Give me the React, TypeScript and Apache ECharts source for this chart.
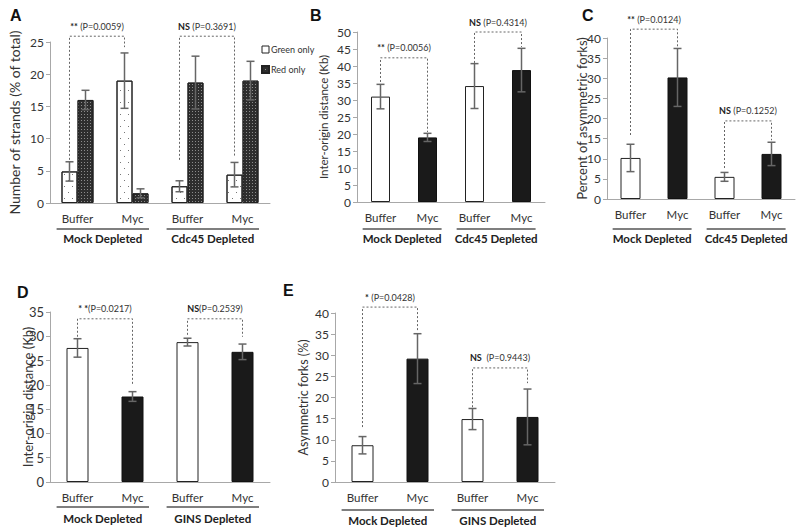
import React, { useEffect, useRef } from 'react';
import * as echarts from 'echarts';

const categories = ['Buffer', 'Myc', 'Buffer', 'Myc'];
const groupsABC = ['Mock Depleted', 'Cdc45 Depleted'];
const groupsDE = ['Mock Depleted', 'GINS Depleted'];

// Panel A
const aGreen = [4.9, 19.0, 2.6, 4.4];
const aGreenErr = [1.5, 4.3, 0.85, 1.9];
const aRed = [16.0, 1.5, 18.7, 19.0];
const aRedErr = [1.5, 0.7, 4.1, 3.0];
// Panel B
const bValues = [31.0, 19.0, 34.1, 38.8];
const bErr = [3.6, 1.2, 6.6, 6.4];
// Panel C
const cValues = [10.2, 30.2, 5.5, 11.2];
const cErr = [3.4, 7.2, 1.1, 2.9];
// Panel D
const dValues = [27.6, 17.6, 28.8, 26.8];
const dErr = [1.9, 1.0, 0.8, 1.6];
// Panel E
const eValues = [8.7, 29.2, 14.9, 15.4];
const eErr = [2.05, 5.9, 2.5, 6.6];

// significance brackets: [leftCat, rightCat, top, leftBottom, rightBottom, stars, p]
type Br = [number, number, number, number, number, string, string];
const aBrackets: Br[] = [
  [0, 1, 25.9, 6.7, 24.2, '**', ' (P=0.0059)'],
  [2, 3, 25.9, 6.7, 7.1, 'NS', ' (P=0.3691)'],
];
const bBrackets: Br[] = [
  [0, 1, 42.4, 35.3, 20.6, '**', ' (P=0.0056)'],
  [2, 3, 50.0, 40.9, 45.6, 'NS', ' (P=0.4314)'],
];
const cBrackets: Br[] = [
  [0, 1, 42.2, 15.9, 37.7, '**', ' (P=0.0124)'],
  [2, 3, 19.4, 7.7, 14.6, 'NS', ' (P=0.1252)'],
];
const dBrackets: Br[] = [
  [0, 1, 33.6, 29.9, 20.0, '* *', '(P=0.0217)'],
  [2, 3, 33.6, 30.3, 29.9, 'NS', '(P=0.2539)'],
];
const eBrackets: Br[] = [
  [0, 1, 41.4, 13.0, 35.5, '*', ' (P=0.0428)'],
  [2, 3, 27.0, 17.7, 23.4, 'NS', '  (P=0.9443)'],
];

const FONT = 'Lato';
const TXT = '#333';
const AXIS = '#a8a8a8';

function errRender(offsetPx: number) {
  return (params: any, api: any) => {
    const idx = api.value(0), v = api.value(1), e = api.value(2);
    const top = api.coord([idx, v + e]);
    const bot = api.coord([idx, v - e]);
    const x = top[0] + offsetPx;
    const cap = 4;
    const st = { stroke: '#666', lineWidth: 1.5 };
    return {
      type: 'group',
      children: [
        { type: 'line', shape: { x1: x, y1: top[1], x2: x, y2: bot[1] }, style: st },
        { type: 'line', shape: { x1: x - cap, y1: top[1], x2: x + cap, y2: top[1] }, style: st },
        { type: 'line', shape: { x1: x - cap, y1: bot[1], x2: x + cap, y2: bot[1] }, style: st },
      ],
    };
  };
}

function bracketRender(list: Br[], offsetPx: number) {
  return (params: any, api: any) => {
    const b = list[params.dataIndex];
    const pL = api.coord([b[0], b[3]]);
    const pR = api.coord([b[1], b[4]]);
    const yT = api.coord([b[0], b[2]])[1];
    const xL = pL[0] + offsetPx, xR = pR[0] + offsetPx;
    return {
      type: 'group',
      children: [
        {
          type: 'polyline',
          shape: { points: [[xL, pL[1]], [xL, yT], [xR, yT], [xR, pR[1]]] },
          style: { stroke: '#666', lineWidth: 1, lineDash: [2, 2], fill: null },
        },
        {
          type: 'text',
          x: (xL + xR) / 2,
          y: yT - 10,
          style: {
            text: '{s|' + b[5] + '}{p|' + b[6] + '}',
            align: 'center',
            verticalAlign: 'middle',
            rich: {
              s: { fontWeight: 'bold', fontSize: 9, fontFamily: FONT, fill: '#222' },
              p: { fontSize: 9, fontFamily: FONT, fill: '#333' },
            },
          },
        },
      ],
    };
  };
}

function groupRender(labels: string[], lineDy: number, textDy: number) {
  return (params: any, api: any) => {
    const s = api.value(0), e = api.value(1);
    const bw = api.size([1, 0])[0];
    const p0 = api.coord([s, 0]);
    const p1 = api.coord([e, 0]);
    const x0 = p0[0] - 0.38 * bw, x1 = p1[0] + 0.3 * bw;
    const y = p0[1] + lineDy;
    return {
      type: 'group',
      children: [
        { type: 'line', shape: { x1: x0, y1: y, x2: x1, y2: y }, style: { stroke: '#555', lineWidth: 1.5 } },
        {
          type: 'text',
          x: (x0 + x1) / 2,
          y: p0[1] + textDy,
          style: {
            text: labels[params.dataIndex],
            align: 'center',
            verticalAlign: 'middle',
            fontSize: 11.5,
            fontWeight: 'bold',
            fontFamily: FONT,
            fill: '#222',
          },
        },
      ],
    };
  };
}

function xAxisCfg(gridIndex: number) {
  return {
    type: 'category',
    gridIndex,
    data: categories,
    axisLine: { lineStyle: { color: AXIS, width: 1 } },
    axisTick: { show: false },
    axisLabel: { fontSize: 11.5, color: TXT, fontFamily: FONT, margin: 9 },
  };
}

function yAxisCfg(
  gridIndex: number,
  max: number,
  name: string,
  nameGap: number,
  nameSize: number,
  labelSize: number,
  moveOverlap = true
) {
  return {
    type: 'value',
    gridIndex,
    min: 0,
    max,
    interval: 5,
    name,
    nameLocation: 'middle',
    nameGap,
    nameMoveOverlap: moveOverlap,
    nameTextStyle: { fontSize: nameSize, color: TXT, fontFamily: FONT },
    axisLine: { show: true, lineStyle: { color: AXIS, width: 1 } },
    axisTick: { show: true, length: 4, lineStyle: { color: AXIS } },
    splitLine: { show: false },
    axisLabel: { fontSize: labelSize, color: TXT, fontFamily: FONT, margin: 6 },
  };
}

const whiteStyle = { color: '#fff', borderColor: '#222', borderWidth: 1 };
const blackStyle = { color: '#1a1a1a', borderColor: '#111', borderWidth: 1 };

function barSeries(gridIndex: number, data: number[], width: number) {
  return {
    type: 'bar',
    xAxisIndex: gridIndex,
    yAxisIndex: gridIndex,
    data: data.map((v, i) => ({ value: v, itemStyle: i % 2 === 0 ? whiteStyle : blackStyle })),
    barWidth: width,
  };
}

function errSeries(gridIndex: number, values: number[], errs: number[], offsetPx = 0) {
  return {
    type: 'custom',
    xAxisIndex: gridIndex,
    yAxisIndex: gridIndex,
    data: values.map((v, i) => [i, v, errs[i]]),
    renderItem: errRender(offsetPx),
    z: 5,
    silent: true,
  };
}

function bracketSeries(gridIndex: number, list: Br[], offsetPx = 0) {
  return {
    type: 'custom',
    xAxisIndex: gridIndex,
    yAxisIndex: gridIndex,
    data: list.map((b) => [b[0], b[2]]),
    renderItem: bracketRender(list, offsetPx),
    z: 6,
    silent: true,
    clip: false,
  };
}

function groupSeries(gridIndex: number, labels: string[], lineDy: number, textDy: number) {
  return {
    type: 'custom',
    xAxisIndex: gridIndex,
    yAxisIndex: gridIndex,
    data: [[0, 1], [2, 3]],
    renderItem: groupRender(labels, lineDy, textDy),
    silent: true,
    clip: false,
  };
}

function letter(text: string, left: number, top: number) {
  return {
    text,
    left,
    top,
    padding: 0,
    textStyle: { fontSize: 16, fontWeight: 'bold', fontFamily: 'Liberation Sans', color: '#111' },
  };
}

export default function App() {
  const ref = useRef<HTMLDivElement>(null);
  useEffect(() => {
    if (!ref.current) return;
    const chart = echarts.init(ref.current, null, { renderer: 'svg' });
    const greenDecal = {
      symbol: 'rect',
      symbolSize: 1,
      color: '#777',
      dashArrayX: [[1, 7], [0, 4, 1, 3]],
      dashArrayY: [1, 5],
    };
    const redDecal = {
      symbol: 'rect',
      symbolSize: 1,
      color: 'rgba(255,255,255,0.45)',
      dashArrayX: [1, 2],
      dashArrayY: [1, 2],
    };
    const option: any = {
      animation: false,
      backgroundColor: '#fff',
      title: [
        letter('A', 10, 7),
        letter('B', 310, 7),
        letter('C', 582, 7),
        letter('D', 17, 284),
        letter('E', 283, 282),
      ],
      legend: {
        data: [
          { name: 'Green only', itemStyle: { borderWidth: 1, decal: 'none' } },
          { name: 'Red only' },
        ],
        icon: 'rect',
        orient: 'vertical',
        left: 256,
        top: 40,
        itemWidth: 7,
        itemHeight: 7,
        itemGap: 11,
        selectedMode: false,
        textStyle: { fontSize: 9, color: TXT, fontFamily: FONT, padding: [0, 0, 0, -3] },
      },
      grid: [
        { left: 50, top: 42, width: 220, height: 161 },
        { left: 357, top: 32, width: 188, height: 170 },
        { left: 607, top: 38, width: 188, height: 161 },
        { left: 50, top: 312, width: 220, height: 170 },
        { left: 335, top: 313, width: 220, height: 169 },
      ],
      xAxis: [0, 1, 2, 3, 4].map(xAxisCfg),
      yAxis: [
        yAxisCfg(0, 25, 'Number of strands (% of total)', 29, 14, 12),
        yAxisCfg(1, 50, 'Inter-origin distance (Kb)', 28, 11.5, 12),
        yAxisCfg(2, 40, 'Percent of asymmetric forks)', 19, 13, 12, false),
        yAxisCfg(3, 35, 'Inter-origin distance (Kb)', 16, 13, 13, false),
        yAxisCfg(4, 40, 'Asymmetric forks (%)', 25, 12.5, 12),
      ],
      series: [
        {
          type: 'bar',
          name: 'Green only',
          xAxisIndex: 0,
          yAxisIndex: 0,
          data: aGreen,
          barWidth: 16,
          barGap: '0%',
          itemStyle: { color: '#fff', borderColor: '#222', borderWidth: 1, decal: greenDecal },
        },
        {
          type: 'bar',
          name: 'Red only',
          xAxisIndex: 0,
          yAxisIndex: 0,
          data: aRed,
          barWidth: 16,
          barGap: '0%',
          itemStyle: { color: '#2e2e2e', borderColor: '#222', borderWidth: 1, decal: redDecal },
        },
        errSeries(0, aGreen, aGreenErr, -8),
        errSeries(0, aRed, aRedErr, 8),
        bracketSeries(0, aBrackets, -8),
        groupSeries(0, groupsABC, 26, 35),

        barSeries(1, bValues, 19),
        errSeries(1, bValues, bErr),
        bracketSeries(1, bBrackets),
        groupSeries(1, groupsABC, 27, 36),

        barSeries(2, cValues, 20),
        errSeries(2, cValues, cErr),
        bracketSeries(2, cBrackets),
        groupSeries(2, groupsABC, 30, 39),

        barSeries(3, dValues, 22),
        errSeries(3, dValues, dErr),
        bracketSeries(3, dBrackets),
        groupSeries(3, groupsDE, 25, 36),

        barSeries(4, eValues, 22),
        errSeries(4, eValues, eErr),
        bracketSeries(4, eBrackets),
        groupSeries(4, groupsDE, 28, 38),
      ],
    };
    chart.setOption(option);
    return () => chart.dispose();
  }, []);
  return (
    <div
      ref={ref}
      style={{ position: 'absolute', left: 0, top: 0, width: 800, height: 531, background: '#fff' }}
    />
  );
}
